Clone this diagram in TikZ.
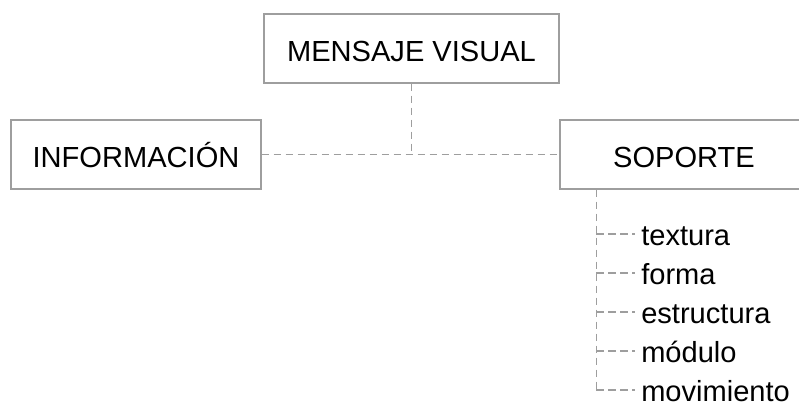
\documentclass[tikz,border=0pt]{standalone}
\usepackage{fontspec}
\setmainfont{Liberation Sans}
\usepackage{tikz}
\usetikzlibrary{positioning}

\begin{document}
\begin{tikzpicture}[x=0.75pt,y=-0.75pt,
  every node/.style={font=\fontsize{21.8}{26}\selectfont,text height=19.6pt,text depth=0pt},
  caja/.style={draw=black!38,line width=1.1pt,minimum height=51.75pt,inner sep=0pt},
  linea/.style={draw=black!38,line width=1pt,dash pattern=on 5.5pt off 3.5pt},
  item/.style={anchor=west,inner xsep=4.5pt,inner ysep=0pt,text height=16.6pt}]
  \useasboundingbox (0,0) rectangle (799,407);
  \clip (0,0) rectangle (799,407);
  \node[caja,minimum width=221.25pt] (mensaje) at (411.5,48.5) {MENSAJE VISUAL};
  \node[caja,minimum width=187.5pt] (informacion) at (136,154.5) {INFORMACIÓN};
  \node[caja,minimum width=186pt] (soporte) at (684,154.5) {SOPORTE};
  % ramas principales
  \draw[linea] (informacion.east) -- (soporte.west);
  \draw[linea] (mensaje.south) -- (mensaje.south |- informacion.east);
  % elementos del soporte
  \coordinate (rama) at ([xshift=27.75pt]soporte.south west);
  \foreach \texto [count=\i] in {textura,forma,estructura,módulo,movimiento}
    \node[item] (item-\i) at (635,195+39*\i) {\texto};
  \draw[linea] (rama) -- (rama |- item-5.west);
  \foreach \i in {1,...,5}
    \draw[linea] (rama |- item-\i.west) -- (item-\i.west);
\end{tikzpicture}
\end{document}
